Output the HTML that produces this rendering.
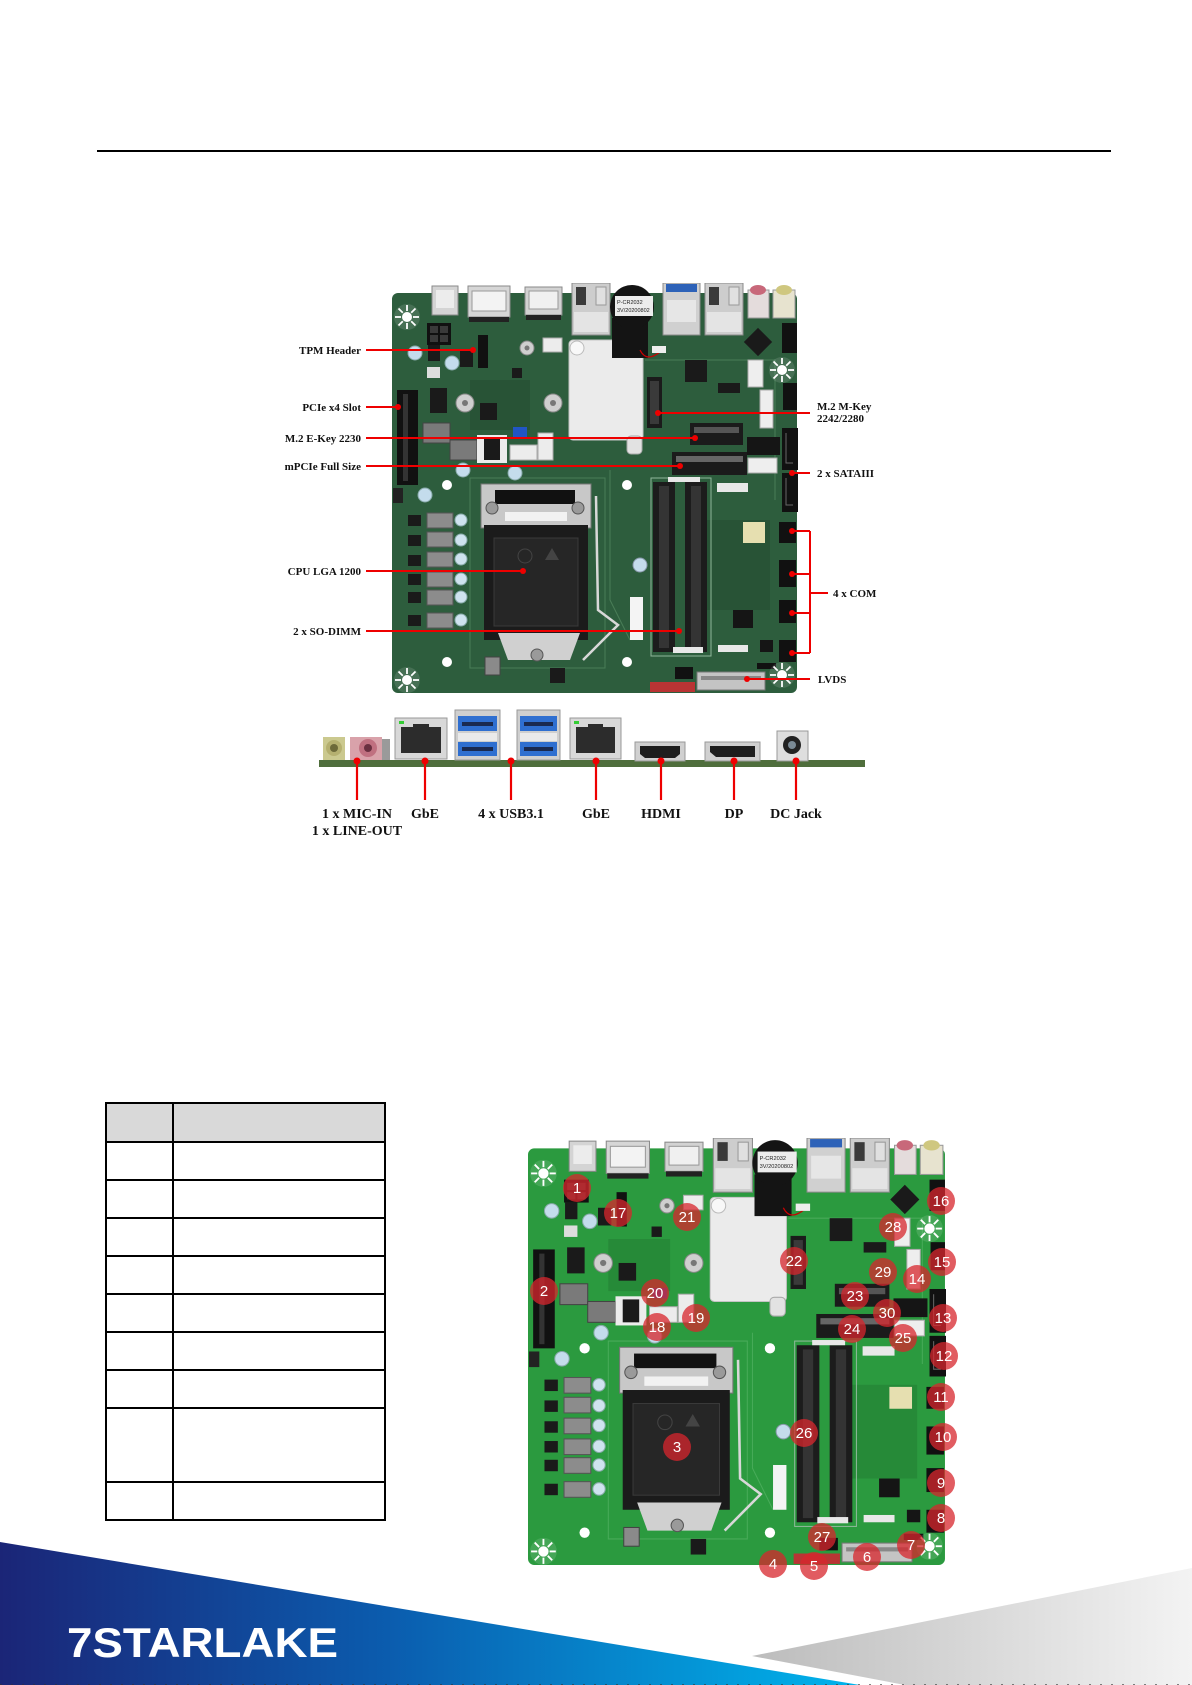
<!DOCTYPE html>
<html><head><meta charset="utf-8">
<style>
html,body{margin:0;padding:0;background:#fff;}
body{width:1192px;height:1685px;overflow:hidden;position:relative;}
svg{position:absolute;left:0;top:0;}
.lbl{font-family:"Liberation Serif",serif;font-weight:bold;font-size:11px;fill:#111;}
.blbl{font-family:"Liberation Serif",serif;font-weight:bold;font-size:14px;fill:#111;}
.num{font-family:"Liberation Sans",sans-serif;font-size:15px;fill:#fff;text-anchor:middle;}
</style></head><body>
<svg width="1192" height="1685" viewBox="0 0 1192 1685" xmlns="http://www.w3.org/2000/svg" xmlns:xlink="http://www.w3.org/1999/xlink">
<defs>
<linearGradient id="gblue" x1="0" y1="0" x2="1" y2="0">
  <stop offset="0" stop-color="#1b2577"/>
  <stop offset="0.45" stop-color="#0b5cae"/>
  <stop offset="1" stop-color="#00b4ec"/>
</linearGradient>
<linearGradient id="ggray" x1="0" y1="0" x2="1" y2="0">
  <stop offset="0" stop-color="#bcbcbc"/>
  <stop offset="1" stop-color="#f3f3f3"/>
</linearGradient>
<g id="star">
  <circle r="13" fill="#ffffff" opacity="0.12"/>
  <g stroke="#fff" stroke-width="1.8">
    <line x1="0" y1="-6" x2="0" y2="-12"/><line x1="0" y1="6" x2="0" y2="12"/>
    <line x1="-6" y1="0" x2="-12" y2="0"/><line x1="6" y1="0" x2="12" y2="0"/>
    <line x1="4.2" y1="4.2" x2="8.5" y2="8.5"/><line x1="-4.2" y1="-4.2" x2="-8.5" y2="-8.5"/>
    <line x1="4.2" y1="-4.2" x2="8.5" y2="-8.5"/><line x1="-4.2" y1="4.2" x2="-8.5" y2="8.5"/>
  </g>
  <circle r="5" fill="#fff"/>
</g>
<symbol id="mb" viewBox="392 283 406 411" preserveAspectRatio="none">
  <rect x="392" y="293" width="405" height="400" rx="6" fill="currentColor"/>
  <!-- subtle region outlines -->
  <g fill="none" stroke="#9fe0a8" stroke-opacity="0.25" stroke-width="1">
    <path d="M470 478 H605 V668 H470 Z"/>
    <path d="M645 360 H775 V500"/>
    <path d="M610 470 V600 L630 640"/>
  </g>
  <g fill="#000" opacity="0.10">
    <rect x="470" y="380" width="60" height="50"/>
    <rect x="700" y="520" width="70" height="90"/>
  </g>
  <!-- ports top -->
  <rect x="432" y="286" width="26" height="29" fill="#d4d4d4" stroke="#8a8a8a"/>
  <rect x="436" y="290" width="18" height="18" fill="#ececec"/>
  <rect x="427" y="323" width="24" height="22" fill="#111"/>
  <g fill="#3a3a3a"><rect x="430" y="326" width="8" height="7"/><rect x="440" y="326" width="8" height="7"/><rect x="430" y="335" width="8" height="7"/><rect x="440" y="335" width="8" height="7"/></g>
  <rect x="468" y="286" width="42" height="31" fill="#d6d6d6" stroke="#8a8a8a"/>
  <rect x="472" y="291" width="34" height="20" fill="#f3f3f3" stroke="#999"/>
  <rect x="469" y="317" width="40" height="5" fill="#222"/>
  <rect x="525" y="287" width="37" height="28" fill="#d2d2d2" stroke="#8a8a8a"/>
  <rect x="529" y="291" width="29" height="18" fill="#f0f0f0" stroke="#999"/>
  <rect x="526" y="315" width="35" height="5" fill="#222"/>
  <rect x="572" y="283" width="38" height="52" fill="#cdcdcd" stroke="#8a8a8a"/>
  <rect x="576" y="287" width="10" height="18" fill="#3a3a3a"/>
  <rect x="596" y="287" width="10" height="18" fill="#e0e0e0" stroke="#999"/>
  <rect x="574" y="312" width="34" height="20" fill="#e4e4e4"/>
  <!-- heat plate -->
  <rect x="569" y="340" width="74" height="100" rx="4" fill="#ebebeb" stroke="#c4c4c4"/>
  <circle cx="577" cy="348" r="7" fill="#f8f8f8" stroke="#bbb"/>
  <rect x="627" y="436" width="15" height="18" rx="4" fill="#e2e2e2" stroke="#aaa"/>
  <!-- battery -->
  <rect x="612" y="318" width="36" height="40" fill="#141414"/>
  <circle cx="632" cy="307" r="22" fill="#141414"/>
  <rect x="615" y="296" width="38" height="20" fill="#ececec"/>
  <text x="617" y="304" font-family="Liberation Sans, sans-serif" font-size="5.5" fill="#222">P-CR2032</text>
  <text x="617" y="312" font-family="Liberation Sans, sans-serif" font-size="5.5" fill="#222">3V/20200802</text>
  <path d="M640 350 C645 360 652 358 660 352" stroke="#c00" fill="none" stroke-width="1.2"/>
  <rect x="652" y="346" width="14" height="7" fill="#eee"/>
  <!-- USB / RJ45 / audio -->
  <rect x="663" y="283" width="37" height="52" fill="#d0d0d0" stroke="#8a8a8a"/>
  <rect x="666" y="284" width="31" height="8" fill="#2d62b8"/>
  <rect x="667" y="300" width="29" height="22" fill="#e6e6e6"/>
  <rect x="705" y="283" width="38" height="52" fill="#cdcdcd" stroke="#8a8a8a"/>
  <rect x="709" y="287" width="10" height="18" fill="#3a3a3a"/>
  <rect x="729" y="287" width="10" height="18" fill="#e0e0e0" stroke="#999"/>
  <rect x="707" y="312" width="34" height="20" fill="#e4e4e4"/>
  <rect x="748" y="290" width="21" height="28" fill="#e4dcdc" stroke="#999"/>
  <ellipse cx="758" cy="290" rx="8" ry="5" fill="#c8687a"/>
  <rect x="773" y="290" width="22" height="28" fill="#e7e3cf" stroke="#999"/>
  <ellipse cx="784" cy="290" rx="8" ry="5" fill="#cfc77f"/>
  <!-- right side -->
  <rect x="782" y="323" width="15" height="30" fill="#111"/>
  <rect x="783" y="383" width="14" height="27" fill="#111"/>
  <rect x="748" y="360" width="15" height="27" fill="#eee" stroke="#aaa"/>
  <rect x="760" y="390" width="13" height="38" fill="#eee" stroke="#aaa"/>
  <rect x="748" y="332" width="20" height="20" transform="rotate(45 758 342)" fill="#1a1a1a"/>
  <rect x="685" y="360" width="22" height="22" fill="#1a1a1a"/>
  <rect x="718" y="383" width="22" height="10" fill="#1a1a1a"/>
  <rect x="747" y="437" width="33" height="18" fill="#151515"/>
  <rect x="748" y="458" width="29" height="15" fill="#eee" stroke="#aaa"/>
  <rect x="782" y="428" width="16" height="42" fill="#111"/>
  <rect x="782" y="473" width="16" height="39" fill="#111"/>
  <path d="M786 433 V463 H793 M786 478 V505 H793" stroke="#666" fill="none"/>
  <g fill="#111"><rect x="779" y="522" width="17" height="21"/><rect x="779" y="560" width="17" height="27"/><rect x="779" y="600" width="17" height="23"/><rect x="779" y="640" width="17" height="22"/></g>
  <rect x="743" y="522" width="22" height="21" fill="#e6dfb0"/>
  <!-- M.2 / mPCIe -->
  <rect x="647" y="377" width="15" height="51" fill="#1b1b1b"/>
  <rect x="650" y="381" width="9" height="43" fill="#3a3a3a"/>
  <rect x="690" y="423" width="53" height="22" fill="#1b1b1b"/>
  <rect x="694" y="427" width="45" height="6" fill="#555"/>
  <rect x="672" y="452" width="75" height="23" fill="#1b1b1b"/>
  <rect x="676" y="456" width="67" height="6" fill="#666"/>
  <!-- SO-DIMM -->
  <rect x="651" y="478" width="60" height="178" fill="none" stroke="#8fb89a" stroke-width="1"/>
  <rect x="653" y="482" width="22" height="170" fill="#1c1c1c"/>
  <rect x="685" y="482" width="22" height="170" fill="#1c1c1c"/>
  <rect x="659" y="486" width="10" height="162" fill="#343434"/>
  <rect x="691" y="486" width="10" height="162" fill="#343434"/>
  <rect x="668" y="477" width="32" height="5" fill="#e8e8e8"/>
  <rect x="717" y="483" width="31" height="9" fill="#e8e8e8"/>
  <rect x="673" y="647" width="30" height="6" fill="#e8e8e8"/>
  <rect x="718" y="645" width="30" height="7" fill="#e8e8e8"/>
  <rect x="630" y="597" width="13" height="43" fill="#f4f4f4"/>
  <circle cx="640" cy="565" r="7" fill="#c4dcec" stroke="#89a"/>
  <!-- bottom right -->
  <rect x="697" y="672" width="68" height="18" fill="#c4c4c4" stroke="#777"/>
  <rect x="701" y="676" width="60" height="4" fill="#888"/>
  <rect x="650" y="682" width="45" height="10" fill="#b93434"/>
  <rect x="675" y="667" width="18" height="12" fill="#111"/>
  <rect x="733" y="610" width="20" height="18" fill="#151515"/>
  <rect x="760" y="640" width="13" height="12" fill="#151515"/>
  <rect x="757" y="663" width="19" height="6" fill="#111"/>
  <!-- CPU socket -->
  <rect x="481" y="484" width="110" height="44" fill="#c8c8c8" stroke="#777"/>
  <rect x="495" y="490" width="80" height="14" fill="#111"/>
  <rect x="505" y="512" width="62" height="9" fill="#f2f2f2"/>
  <rect x="484" y="525" width="104" height="115" fill="#1b1b1b"/>
  <rect x="494" y="538" width="84" height="88" fill="#262626" stroke="#3a3a3a"/>
  <circle cx="525" cy="556" r="7" fill="none" stroke="#444"/>
  <path d="M545 560 L552 548 L559 560 Z" fill="#444"/>
  <circle cx="492" cy="508" r="6" fill="#9a9a9a" stroke="#555"/>
  <circle cx="578" cy="508" r="6" fill="#9a9a9a" stroke="#555"/>
  <path d="M498 633 L580 633 L570 660 L508 660 Z" fill="#d0d0d0"/>
  <circle cx="537" cy="655" r="6" fill="#9a9a9a" stroke="#555"/>
  <path d="M596 496 L598 610 L618 625 L583 660" stroke="#d8d8d8" stroke-width="2.5" fill="none"/>
  <!-- VRM -->
  <g fill="#8c8c8c" stroke="#555">
    <rect x="427" y="513" width="26" height="15"/><rect x="427" y="532" width="26" height="15"/>
    <rect x="427" y="552" width="26" height="15"/><rect x="427" y="572" width="26" height="15"/>
    <rect x="427" y="590" width="26" height="15"/><rect x="427" y="613" width="26" height="15"/>
  </g>
  <g fill="#cfe3ef" stroke="#8aa">
    <circle cx="461" cy="520" r="6"/><circle cx="461" cy="540" r="6"/><circle cx="461" cy="559" r="6"/>
    <circle cx="461" cy="579" r="6"/><circle cx="461" cy="597" r="6"/><circle cx="461" cy="620" r="6"/>
  </g>
  <g fill="#1a1a1a">
    <rect x="408" y="515" width="13" height="11"/><rect x="408" y="535" width="13" height="11"/>
    <rect x="408" y="555" width="13" height="11"/><rect x="408" y="574" width="13" height="11"/>
    <rect x="408" y="592" width="13" height="11"/><rect x="408" y="615" width="13" height="11"/>
  </g>
  <!-- PCIe slot -->
  <rect x="397" y="390" width="21" height="95" fill="#111"/>
  <rect x="403" y="394" width="5" height="87" fill="#333"/>
  <rect x="393" y="488" width="10" height="15" fill="#222"/>
  <!-- misc upper-left -->
  <rect x="430" y="388" width="17" height="25" fill="#1a1a1a"/>
  <rect x="480" y="403" width="17" height="17" fill="#1a1a1a"/>
  <rect x="423" y="423" width="27" height="20" fill="#7a7a7a" stroke="#444"/>
  <rect x="450" y="440" width="27" height="20" fill="#7a7a7a" stroke="#444"/>
  <rect x="477" y="435" width="30" height="28" fill="#ececec"/>
  <rect x="484" y="438" width="16" height="22" fill="#1a1a1a"/>
  <rect x="513" y="427" width="14" height="10" fill="#2155c4"/>
  <rect x="510" y="445" width="27" height="15" fill="#ececec" stroke="#aaa"/>
  <rect x="538" y="433" width="15" height="27" fill="#ececec" stroke="#aaa"/>
  <rect x="478" y="335" width="10" height="33" fill="#111"/>
  <rect x="543" y="338" width="19" height="14" fill="#ececec" stroke="#aaa"/>
  <rect x="460" y="350" width="13" height="17" fill="#1a1a1a"/>
  <rect x="428" y="345" width="12" height="16" fill="#1a1a1a"/>
  <rect x="427" y="367" width="13" height="11" fill="#ddd"/>
  <rect x="485" y="657" width="15" height="18" fill="#8a8a8a" stroke="#444"/>
  <rect x="550" y="668" width="15" height="15" fill="#1a1a1a"/>
  <rect x="512" y="368" width="10" height="10" fill="#1a1a1a"/>
  <g fill="#c4dcec" stroke="#8aa">
    <circle cx="415" cy="353" r="7"/><circle cx="452" cy="363" r="7"/><circle cx="463" cy="470" r="7"/>
    <circle cx="515" cy="473" r="7"/><circle cx="425" cy="495" r="7"/>
  </g>
  <g fill="#cfcfcf" stroke="#888">
    <circle cx="465" cy="403" r="9"/><circle cx="553" cy="403" r="9"/><circle cx="527" cy="348" r="7"/>
  </g>
  <g fill="#777"><circle cx="465" cy="403" r="3"/><circle cx="553" cy="403" r="3"/><circle cx="527" cy="348" r="2.5"/></g>
  <g fill="#fff">
    <circle cx="447" cy="485" r="5"/><circle cx="627" cy="485" r="5"/>
    <circle cx="447" cy="662" r="5"/><circle cx="627" cy="662" r="5"/>
  </g>
  <use xlink:href="#star" x="407" y="317"/>
  <use xlink:href="#star" x="407" y="680"/>
  <use xlink:href="#star" x="782" y="370"/>
  <use xlink:href="#star" x="782" y="675"/>
</symbol>
</defs>

<!-- header rule -->
<rect x="97" y="150" width="1014" height="2" fill="#000"/>

<!-- top board -->
<use xlink:href="#mb" x="392" y="283" width="406" height="411" style="color:#2d5d3d"/>

<!-- top left labels -->
<g stroke="#e00" stroke-width="2">
  <line x1="366" y1="350" x2="473" y2="350"/>
  <line x1="366" y1="407" x2="398" y2="407"/>
  <line x1="366" y1="438" x2="695" y2="438"/>
  <line x1="366" y1="466" x2="680" y2="466"/>
  <line x1="366" y1="571" x2="523" y2="571"/>
  <line x1="366" y1="631" x2="679" y2="631"/>
  <line x1="658" y1="413" x2="810" y2="413"/>
  <line x1="792" y1="473" x2="810" y2="473"/>
  <line x1="810" y1="531" x2="810" y2="653"/>
  <line x1="792" y1="531" x2="810" y2="531"/>
  <line x1="792" y1="574" x2="810" y2="574"/>
  <line x1="792" y1="613" x2="810" y2="613"/>
  <line x1="792" y1="653" x2="810" y2="653"/>
  <line x1="810" y1="593" x2="828" y2="593"/>
  <line x1="747" y1="679" x2="810" y2="679"/>
</g>
<g fill="#e00">
  <circle cx="473" cy="350" r="3"/><circle cx="398" cy="407" r="3"/><circle cx="695" cy="438" r="3"/>
  <circle cx="680" cy="466" r="3"/><circle cx="523" cy="571" r="3"/><circle cx="679" cy="631" r="3"/>
  <circle cx="658" cy="413" r="3"/><circle cx="792" cy="473" r="3"/>
  <circle cx="792" cy="531" r="3"/><circle cx="792" cy="574" r="3"/><circle cx="792" cy="613" r="3"/><circle cx="792" cy="653" r="3"/>
  <circle cx="747" cy="679" r="3"/>
</g>
<g class="lbl" text-anchor="end">
  <text x="361" y="354">TPM Header</text>
  <text x="361" y="411">PCIe x4 Slot</text>
  <text x="361" y="442">M.2 E-Key 2230</text>
  <text x="361" y="470">mPCIe Full Size</text>
  <text x="361" y="575">CPU LGA 1200</text>
  <text x="361" y="635">2 x SO-DIMM</text>
</g>
<g class="lbl">
  <text x="817" y="410">M.2 M-Key</text>
  <text x="817" y="422">2242/2280</text>
  <text x="817" y="477">2 x SATAIII</text>
  <text x="833" y="597">4 x COM</text>
  <text x="818" y="683">LVDS</text>
</g>

<!-- side view -->
<rect x="319" y="760" width="546" height="7" fill="#4f6e3c"/>
<rect x="323" y="737" width="22" height="23" fill="#cbc98f"/>
<circle cx="334" cy="748" r="8" fill="#b5b070"/><circle cx="334" cy="748" r="4" fill="#6d6a3a"/>
<rect x="350" y="737" width="32" height="23" fill="#d9a2aa"/>
<rect x="382" y="739" width="8" height="21" fill="#9a9a9a"/>
<circle cx="368" cy="748" r="9" fill="#c07080"/><circle cx="368" cy="748" r="4" fill="#6a3040"/>
<g>
  <rect x="395" y="718" width="52" height="41" fill="#d8d8d8" stroke="#999"/>
  <rect x="401" y="727" width="40" height="26" fill="#2c2c2c"/>
  <rect x="413" y="724" width="16" height="5" fill="#2c2c2c"/>
  <rect x="399" y="721" width="5" height="3" fill="#3c3"/>
  <rect x="570" y="718" width="51" height="41" fill="#d8d8d8" stroke="#999"/>
  <rect x="576" y="727" width="39" height="26" fill="#2c2c2c"/>
  <rect x="588" y="724" width="15" height="5" fill="#2c2c2c"/>
  <rect x="574" y="721" width="5" height="3" fill="#3c3"/>
</g>
<g>
  <rect x="455" y="710" width="45" height="50" fill="#cfcfcf" stroke="#999"/>
  <rect x="458" y="716" width="39" height="15" fill="#2f6fd0"/><rect x="462" y="722" width="31" height="4" fill="#1a2a50"/>
  <rect x="458" y="733" width="39" height="8" fill="#eaeaea"/>
  <rect x="458" y="742" width="39" height="14" fill="#2f6fd0"/><rect x="462" y="747" width="31" height="4" fill="#1a2a50"/>
  <rect x="517" y="710" width="43" height="50" fill="#cfcfcf" stroke="#999"/>
  <rect x="520" y="716" width="37" height="15" fill="#2f6fd0"/><rect x="524" y="722" width="29" height="4" fill="#1a2a50"/>
  <rect x="520" y="733" width="37" height="8" fill="#eaeaea"/>
  <rect x="520" y="742" width="37" height="14" fill="#2f6fd0"/><rect x="524" y="747" width="29" height="4" fill="#1a2a50"/>
</g>
<rect x="635" y="742" width="50" height="19" fill="#d0d0d0" stroke="#999"/>
<path d="M640 746 H680 V754 L675 758 H645 L640 754 Z" fill="#1e1e1e"/>
<rect x="705" y="742" width="55" height="19" fill="#d0d0d0" stroke="#999"/>
<path d="M710 746 H755 V757 H716 L710 752 Z" fill="#1e1e1e"/>
<rect x="777" y="731" width="31" height="30" fill="#dedede" stroke="#999"/>
<circle cx="792" cy="745" r="9" fill="#222"/><circle cx="792" cy="745" r="4" fill="#7a8a95"/>
<g stroke="#e00" stroke-width="2.2">
  <line x1="357" y1="761" x2="357" y2="800"/><line x1="425" y1="761" x2="425" y2="800"/>
  <line x1="511" y1="761" x2="511" y2="800"/><line x1="596" y1="761" x2="596" y2="800"/>
  <line x1="661" y1="761" x2="661" y2="800"/><line x1="734" y1="761" x2="734" y2="800"/>
  <line x1="796" y1="761" x2="796" y2="800"/>
</g>
<g fill="#e00">
  <circle cx="357" cy="761" r="3.5"/><circle cx="425" cy="761" r="3.5"/><circle cx="511" cy="761" r="3.5"/>
  <circle cx="596" cy="761" r="3.5"/><circle cx="661" cy="761" r="3.5"/><circle cx="734" cy="761" r="3.5"/>
  <circle cx="796" cy="761" r="3.5"/>
</g>
<g class="blbl" text-anchor="middle">
  <text x="357" y="818">1 x MIC-IN</text>
  <text x="357" y="835">1 x LINE-OUT</text>
  <text x="425" y="818">GbE</text>
  <text x="511" y="818">4 x USB3.1</text>
  <text x="596" y="818">GbE</text>
  <text x="661" y="818">HDMI</text>
  <text x="734" y="818">DP</text>
  <text x="796" y="818">DC Jack</text>
</g>

<!-- table -->
<rect x="106" y="1103" width="279" height="39" fill="#d9d9d9"/>
<g stroke="#000" stroke-width="2" fill="none">
  <rect x="106" y="1103" width="279" height="417"/>
  <line x1="173" y1="1103" x2="173" y2="1520"/>
  <line x1="106" y1="1142" x2="385" y2="1142"/>
  <line x1="106" y1="1180" x2="385" y2="1180"/>
  <line x1="106" y1="1218" x2="385" y2="1218"/>
  <line x1="106" y1="1256" x2="385" y2="1256"/>
  <line x1="106" y1="1294" x2="385" y2="1294"/>
  <line x1="106" y1="1332" x2="385" y2="1332"/>
  <line x1="106" y1="1370" x2="385" y2="1370"/>
  <line x1="106" y1="1408" x2="385" y2="1408"/>
  <line x1="106" y1="1482" x2="385" y2="1482"/>
</g>

<!-- footer -->
<polygon points="0,1542 860,1685 0,1685" fill="url(#gblue)"/>
<polygon points="752,1656 1192,1568 1192,1685 905,1685" fill="url(#ggray)"/>
<text x="67" y="1657" textLength="271" lengthAdjust="spacingAndGlyphs" font-family="Liberation Sans, sans-serif" font-weight="bold" font-size="42" fill="#fff">7STARLAKE</text>
<line x1="0" y1="1684.5" x2="1192" y2="1684.5" stroke="#333" stroke-width="1" stroke-dasharray="2 9" opacity="0.6"/>

<!-- bottom board -->
<use xlink:href="#mb" x="528" y="1138" width="418" height="428" style="color:#2b9a3f"/>
<g fill="#d8262d" opacity="0.75">
  <circle cx="577" cy="1188" r="14"/><circle cx="618" cy="1213" r="14"/><circle cx="687" cy="1217" r="14"/>
  <circle cx="941" cy="1201" r="14"/><circle cx="893" cy="1227" r="14"/><circle cx="942" cy="1262" r="14"/>
  <circle cx="794" cy="1261" r="14"/><circle cx="883" cy="1272" r="14"/><circle cx="917" cy="1279" r="14"/>
  <circle cx="544" cy="1291" r="14"/><circle cx="655" cy="1293" r="14"/><circle cx="855" cy="1296" r="14"/>
  <circle cx="943" cy="1318" r="14"/><circle cx="887" cy="1313" r="14"/><circle cx="696" cy="1318" r="14"/>
  <circle cx="657" cy="1327" r="14"/><circle cx="852" cy="1329" r="14"/><circle cx="903" cy="1338" r="14"/>
  <circle cx="944" cy="1356" r="14"/><circle cx="941" cy="1397" r="14"/><circle cx="804" cy="1433" r="14"/>
  <circle cx="943" cy="1437" r="14"/><circle cx="677" cy="1447" r="14"/><circle cx="941" cy="1483" r="14"/>
  <circle cx="941" cy="1518" r="14"/><circle cx="822" cy="1537" r="14"/><circle cx="911" cy="1545" r="14"/>
  <circle cx="773" cy="1564" r="14"/><circle cx="814" cy="1566" r="14"/><circle cx="867" cy="1557" r="14"/>
</g>
<g class="num">
  <text x="577" y="1193">1</text><text x="618" y="1218">17</text><text x="687" y="1222">21</text>
  <text x="941" y="1206">16</text><text x="893" y="1232">28</text><text x="942" y="1267">15</text>
  <text x="794" y="1266">22</text><text x="883" y="1277">29</text><text x="917" y="1284">14</text>
  <text x="544" y="1296">2</text><text x="655" y="1298">20</text><text x="855" y="1301">23</text>
  <text x="943" y="1323">13</text><text x="887" y="1318">30</text><text x="696" y="1323">19</text>
  <text x="657" y="1332">18</text><text x="852" y="1334">24</text><text x="903" y="1343">25</text>
  <text x="944" y="1361">12</text><text x="941" y="1402">11</text><text x="804" y="1438">26</text>
  <text x="943" y="1442">10</text><text x="677" y="1452">3</text><text x="941" y="1488">9</text>
  <text x="941" y="1523">8</text><text x="822" y="1542">27</text><text x="911" y="1550">7</text>
  <text x="773" y="1569">4</text><text x="814" y="1571">5</text><text x="867" y="1562">6</text>
</g>
</svg>
</body></html>
